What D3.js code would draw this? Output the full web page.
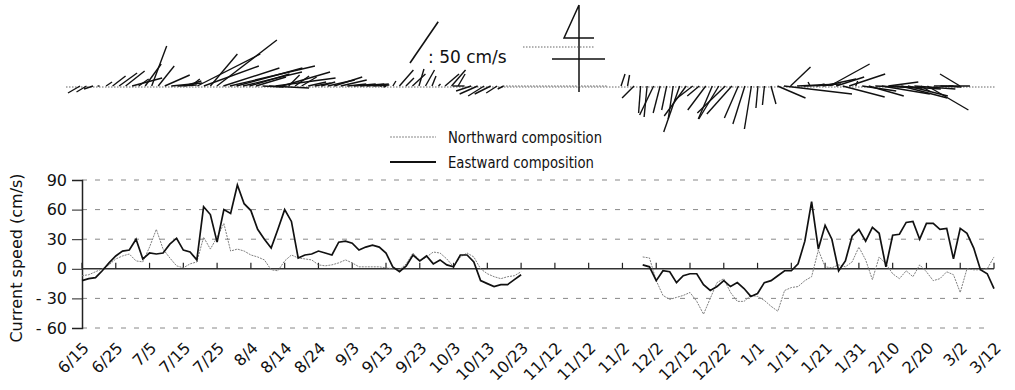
<!DOCTYPE html>
<html>
<head>
<meta charset="utf-8">
<script src="https://cdn.jsdelivr.net/npm/d3@7"></script>
<style>
  body { margin: 0; background: #fff; }
  text { font-family: "DejaVu Sans", sans-serif; fill: #111; }
</style>
</head>
<body>
<script>
// tick labels, as printed under the axis (every 10 days from 6/15)
var dateLabels = ["6/15", "6/25", "7/5", "7/15", "7/25", "8/4", "8/14", "8/24", "9/3", "9/13",
  "9/23", "10/3", "10/13", "10/23", "11/12", "11/12", "11/2", "12/2", "12/12", "12/22",
  "1/1", "1/11", "1/21", "1/31", "2/10", "2/20", "3/2", "3/12"];
var yTicks = [90, 60, 30, 0, -30, -60];

// readings every 2 days; first block starts 6/15 (day 0), second block day 166
var stepDays = 2;
var start1 = 0;
var start2 = 166;

var east1 = [-12, -10, -9, -2, 6, 13, 18, 19, 30, 10,
  16, 15, 16, 25, 31, 19, 17, 9, 63, 55,
  27, 60, 56, 85, 66, 59, 40, 30, 21, 40,
  60, 48, 11, 14, 15, 18, 16, 14, 27, 28,
  26, 19, 22, 24, 22, 16, 2, -3, 3, 14,
  8, 13, 5, 9, 4, 2, 14, 14, 7, -12,
  -15, -18, -16, -16, -11, -6];
var north1 = [-7, -6, -3, 0, 4, 10, 13, 15, 8, 7,
  22, 40, 20, 11, 3, 1, 5, 7, 32, 20,
  32, 46, 18, 20, 18, 14, 12, 9, -1, -2,
  8, 14, 11, 10, 9, 4, 3, 4, 6, 9,
  6, 2, 2, 2, 2, 1, 0, -1, 5, 16,
  8, 12, 17, 16, 10, 2, 12, 16, 12, 0,
  -5, -8, -10, -8, -7, -3];
var east2 = [4, 2, -12, -2, -3, -14, -7, -5, -5, -16,
  -22, -18, -12, -18, -14, -20, -28, -25, -14, -12,
  -7, -2, -2, 5, 28, 68, 20, 44, 30, -2,
  8, 33, 40, 28, 42, 36, 2, 34, 35, 47,
  48, 30, 46, 46, 40, 41, 10, 41, 36, 21,
  -1, -5, -20];
var north2 = [12, 11, -12, -27, -31, -29, -27, -24, -33, -46,
  -30, -14, -10, -24, -33, -33, -27, -28, -32, -38,
  -43, -22, -19, -18, -12, -8, 19, 2, 1, 4,
  2, 7, 22, 9, -11, 12, 5, -5, -10, -2,
  -8, 4, -3, -12, -10, -3, -6, -24, 0, -1,
  -1, 0, 12];

var w = 1015, h = 390;
var svg = d3.select("body").append("svg").attr("width", w).attr("height", h);

function block(start, e, n) {
  return e.map(function(v, i) {
    return { day: start + i * stepDays, east: v, north: n[i] };
  });
}
var blocks = [block(start1, east1, north1), block(start2, east2, north2)];
var lastDay = (dateLabels.length - 1) * 10;

// ---------- line chart ----------
var x = d3.scaleLinear().domain([0, lastDay]).range([82, 994]);
var y = d3.scaleLinear().domain([-60, 90]).range([328, 180]);

// dashed grid
svg.append("g").selectAll("line")
  .data(yTicks.filter(function(d) { return d !== 0; }))
  .enter().append("line")
  .attr("x1", x(0)).attr("x2", 990)
  .attr("y1", function(d) { return y(d); })
  .attr("y2", function(d) { return y(d); })
  .attr("stroke", "#888").attr("stroke-width", 1)
  .attr("stroke-dasharray", "5,8");

// y axis
var yAxis = d3.axisLeft(y).tickValues(yTicks).tickSize(10).tickPadding(5)
  .tickFormat(function(d) { return d < 0 ? "- " + Math.abs(d) : d; });
var gy = svg.append("g").attr("transform", "translate(" + x(0) + ",0)").call(yAxis);
gy.select(".domain").attr("stroke", "#222").attr("stroke-width", 1.5);
gy.selectAll(".tick line").attr("stroke", "#222");
gy.selectAll("text").attr("font-size", 16).attr("fill", "#111")
  .style("font-family", "DejaVu Sans, sans-serif");

svg.append("text")
  .attr("transform", "translate(22,258) rotate(-90)")
  .attr("text-anchor", "middle").attr("font-size", 16)
  .text("Current speed (cm/s)");

// zero line with small upward ticks
svg.append("line")
  .attr("x1", x(0)).attr("x2", x(lastDay))
  .attr("y1", y(0)).attr("y2", y(0))
  .attr("stroke", "#333").attr("stroke-width", 1.6);
svg.append("g").selectAll("line")
  .data(dateLabels)
  .enter().append("line")
  .attr("x1", function(d, i) { return x(i * 10); })
  .attr("x2", function(d, i) { return x(i * 10); })
  .attr("y1", y(0)).attr("y2", y(0) - 6)
  .attr("stroke", "#222").attr("stroke-width", 1.2);

// rotated date labels
svg.append("g").selectAll("text")
  .data(dateLabels)
  .enter().append("text")
  .attr("transform", function(d, i) {
    return "translate(" + (x(i * 10) + 8) + ",349) rotate(-45)";
  })
  .attr("text-anchor", "end").attr("font-size", 16)
  .text(function(d) { return d; });

var lineN = d3.line().x(function(d) { return x(d.day); }).y(function(d) { return y(d.north); });
var lineE = d3.line().x(function(d) { return x(d.day); }).y(function(d) { return y(d.east); });

svg.append("g").selectAll("path")
  .data(blocks).enter().append("path")
  .attr("d", lineN).attr("fill", "none")
  .attr("stroke", "#808080").attr("stroke-width", 1)
  .attr("stroke-dasharray", "2,1");
svg.append("g").selectAll("path")
  .data(blocks).enter().append("path")
  .attr("d", lineE).attr("fill", "none")
  .attr("stroke", "#111").attr("stroke-width", 1.7);

// legend (narrow lettering squeezed to the printed width)
var legend = [
  { name: "Northward composition", color: "#8a8a8a", dash: "2,1", width: 1.2, y: 137, len: 154 },
  { name: "Eastward composition", color: "#111", dash: null, width: 1.8, y: 162, len: 146 }
];
var lg = svg.append("g").selectAll("g").data(legend).enter().append("g");
lg.append("line")
  .attr("x1", 390).attr("x2", 436)
  .attr("y1", function(d) { return d.y; }).attr("y2", function(d) { return d.y; })
  .attr("stroke", function(d) { return d.color; })
  .attr("stroke-width", function(d) { return d.width; })
  .attr("stroke-dasharray", function(d) { return d.dash; });
lg.append("text")
  .attr("x", 448).attr("y", function(d) { return d.y + 6; })
  .attr("font-size", 16)
  .attr("textLength", function(d) { return d.len; })
  .attr("lengthAdjust", "spacingAndGlyphs")
  .text(function(d) { return d.name; });

// ---------- stick plot ----------
var sx = d3.scaleLinear().domain([0, lastDay]).range([80, 960]);
var k = d3.scaleLinear().domain([0, 50]).range([0, 50]);
var baseY = 86;

svg.append("line")
  .attr("x1", 66).attr("x2", 996).attr("y1", baseY + 1).attr("y2", baseY + 1)
  .attr("stroke", "#666").attr("stroke-width", 1).attr("stroke-dasharray", "1.5,1.5");

var allPts = blocks[0].concat(blocks[1]);
svg.append("g").selectAll("line")
  .data(allPts).enter().append("line")
  .attr("x1", function(d) { return sx(d.day); })
  .attr("y1", baseY)
  .attr("x2", function(d) { return sx(d.day) + k(d.east); })
  .attr("y2", function(d) { return baseY - k(d.north); })
  .attr("stroke", "#111").attr("stroke-width", 1.4);

// scale stick: 50 cm/s
var refAngle = Math.atan2(41, 28);
svg.append("line")
  .attr("x1", 410).attr("y1", 63)
  .attr("x2", 410 + k(50) * Math.cos(refAngle))
  .attr("y2", 63 - k(50) * Math.sin(refAngle))
  .attr("stroke", "#111").attr("stroke-width", 1.6);
svg.append("text").attr("x", 428).attr("y", 63).attr("font-size", 17).text(": 50 cm/s");

// north sign
var sign = svg.append("g").attr("stroke", "#111").attr("fill", "none");
sign.append("path").attr("d", "M579,5 L579,92 M579,5 L564,38 L594,38 M552,59 L605,59").attr("stroke-width", 1.5);
sign.append("path").attr("d", "M523,47 L595,47 M503,86 L607,86")
  .attr("stroke", "#666").attr("stroke-width", 1).attr("stroke-dasharray", "1.5,1.5");
</script>
</body>
</html>
